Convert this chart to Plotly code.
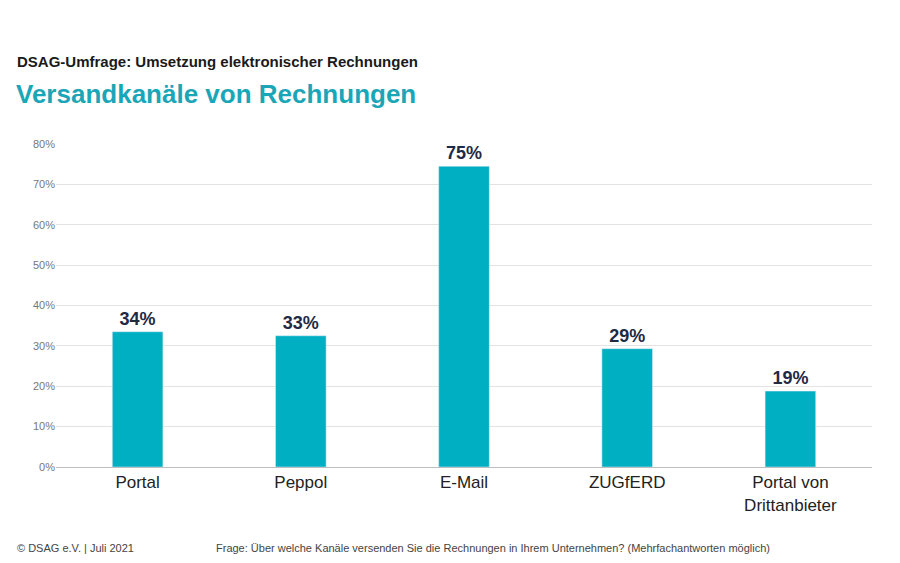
import plotly.graph_objects as go

categories = ["Portal", "Peppol", "E-Mail", "ZUGfERD", "Portal von<br>Drittanbieter"]
values = [33.5, 32.5, 74.5, 29.3, 18.8]
labels = ["<b>34%</b>", "<b>33%</b>", "<b>75%</b>", "<b>29%</b>", "<b>19%</b>"]
teal = "#00AFC2"

L, T, R, B = 48, 136, 36, 104
W, H = 900 - L - R, 563 - T - B

fig = go.Figure(go.Bar(
    x=categories, y=values, marker_color=teal, width=0.31,
    text=labels, textposition="outside", cliponaxis=False,
    textfont=dict(size=18, color="#1f2a44"),
))
fig.update_layout(
    width=900, height=563, plot_bgcolor="white", paper_bgcolor="white",
    margin=dict(l=L, r=R, t=T, b=B), showlegend=False,
    font=dict(family="Liberation Sans, Arial"),
    xaxis=dict(showline=True, linecolor="#bfbfbf", tickfont=dict(size=17, color="#222")),
    yaxis=dict(range=[0, 80], dtick=10, ticksuffix="%", showgrid=True, gridcolor="#e3e3e3",
               tickfont=dict(size=11, color="#777"), zeroline=False),
)
def ann(text, x, y, size, color, bold=False):
    fig.add_annotation(text=f"<b>{text}</b>" if bold else text, xref="paper", yref="paper",
                       x=(x - L) / W, y=(563 - B - y) / H, xanchor="left", yanchor="middle",
                       showarrow=False, font=dict(size=size, color=color))
ann("DSAG-Umfrage: Umsetzung elektronischer Rechnungen", 7, 54, 15, "#1a1a1a", True)
ann("Versandkanäle von Rechnungen", 6, 86, 26, "#1ba6b8", True)
ann("© DSAG e.V. | Juli 2021", 7, 540, 11, "#444")
ann("Frage: Über welche Kanäle versenden Sie die Rechnungen in Ihrem Unternehmen? (Mehrfachantworten möglich)", 206, 540, 11, "#444")
fig.write_html("out.html")
